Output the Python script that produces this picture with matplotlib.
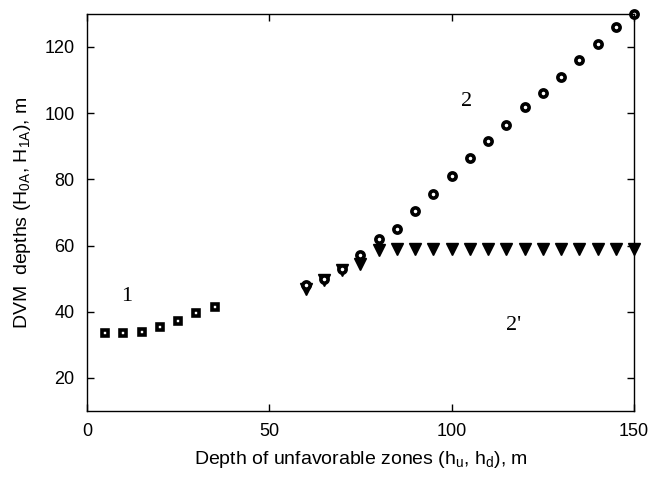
import matplotlib
matplotlib.use("Agg")
import matplotlib.pyplot as plt

x1 = [5, 10, 15, 20, 25, 30, 35]
y1 = [33.7, 33.7, 34.0, 35.5, 37.2, 39.7, 41.5]

x2 = [60, 65, 70, 75, 80, 85, 90, 95, 100, 105, 110, 115, 120, 125, 130, 135, 140, 145, 150]
y2 = [48.0, 50.0, 53.0, 57.0, 62.0, 65.0, 70.5, 75.5, 81.0, 86.5, 91.5, 96.5, 102.0, 106.0, 111.0, 116.0, 121.0, 126.0, 130.0]

x2p = [60, 65, 70, 75, 80, 85, 90, 95, 100, 105, 110, 115, 120, 125, 130, 135, 140, 145, 150]
y2p = [47.0, 49.5, 52.5, 54.5, 58.5, 59, 59, 59, 59, 59, 59, 59, 59, 59, 59, 59, 59, 59, 59]

fig = plt.figure(figsize=(6.51, 4.79), dpi=100)
ax = fig.add_axes([0.1336, 0.142, 0.8403, 0.829])

ax.plot(x2p, y2p, linestyle='none', marker='v', markersize=8.5, color='black', clip_on=False)
ax.plot(x2, y2, linestyle='none', marker='o', markersize=5.2, markerfacecolor='white',
        markeredgecolor='black', markeredgewidth=2.6, clip_on=False)
ax.plot(x1, y1, linestyle='none', marker='s', markersize=4.8, markerfacecolor='white',
        markeredgecolor='black', markeredgewidth=2.6, clip_on=False)

ax.set_xlim(0, 150)
ax.set_ylim(10, 130)
ax.set_xticks([0, 50, 100, 150])
ax.set_yticks([20, 40, 60, 80, 100, 120])
ax.tick_params(direction='in', top=True, right=True, labelsize=13, length=5, width=1, pad=9)
for lab in ax.get_xticklabels() + ax.get_yticklabels():
    lab.set_family('Liberation Sans')
for s in ax.spines.values():
    s.set_linewidth(1)

ax.set_xlabel('Depth of unfavorable zones (h$_\\mathregular{u}$, h$_\\mathregular{d}$), m',
              fontsize=14, family='Liberation Sans', labelpad=6)
ax.set_ylabel('DVM  depths (H$_\\mathregular{0A}$, H$_\\mathregular{1A}$), m',
              fontsize=14, family='Liberation Sans', labelpad=8)

ax.text(11, 44.5, '1', fontsize=16, family='Liberation Serif', ha='center', va='center')
ax.text(104, 103.5, '2', fontsize=16, family='Liberation Serif', ha='center', va='center')
ax.text(117, 35.8, "2'", fontsize=16, family='Liberation Serif', ha='center', va='center')

fig.savefig('out.png', dpi=100)
